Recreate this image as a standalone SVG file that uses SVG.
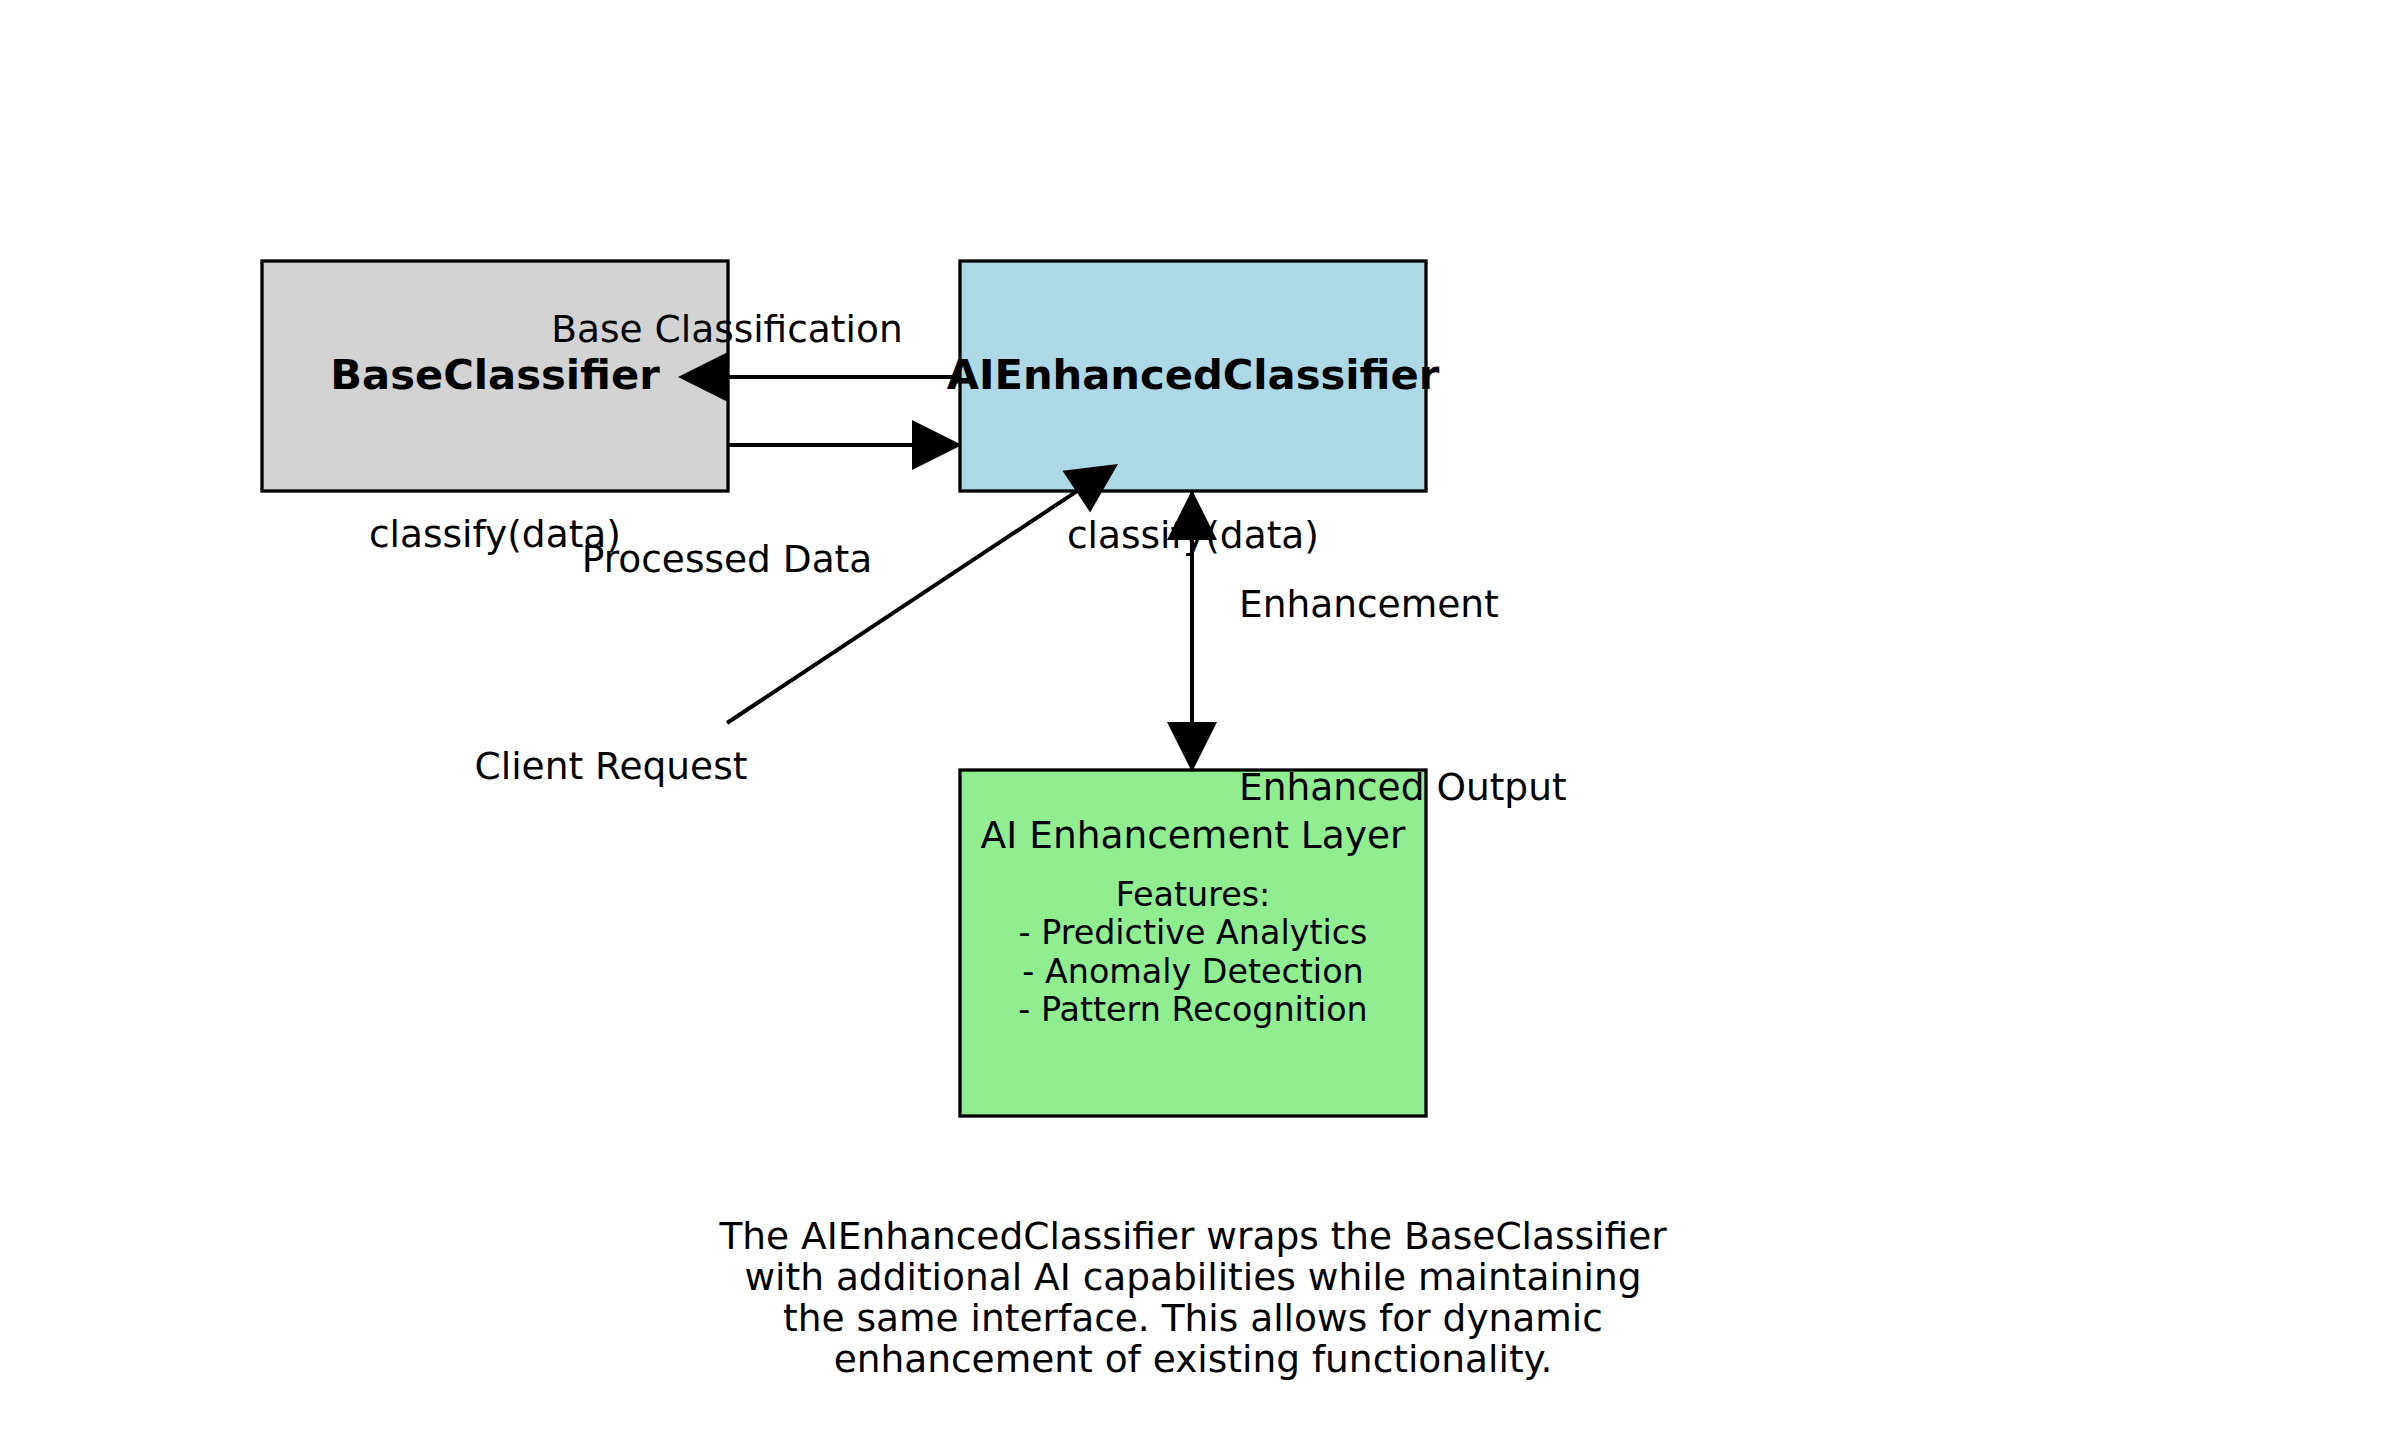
<svg xmlns="http://www.w3.org/2000/svg" width="2385" height="1446" viewBox="0 0 2385 1446">
<style>
text{font-family:"DejaVu Sans","Liberation Sans",sans-serif;fill:#000}
.box{stroke:#000;stroke-width:3.3}
.title{font-size:41.67px;font-weight:bold;text-anchor:middle}
.lbl{font-size:37.5px}
.mid{text-anchor:middle}
.start{text-anchor:start}
.feat{font-size:33.33px;text-anchor:middle}
.conn{stroke:#000;stroke-width:4;fill:none}
</style>
<defs>
<marker id="ah" markerUnits="userSpaceOnUse" markerWidth="52" markerHeight="52" viewBox="0 -26 52 52" refX="0" refY="0" orient="auto" overflow="visible">
<path d="M0,-25 L50,0 L0,25 z" fill="#000"/>
</marker>
</defs>
<rect width="2385" height="1446" fill="#fff"/>
<g id="base-classifier">
<rect class="box" x="262" y="261" width="466" height="230" fill="#d3d3d3"/>
<text class="title" x="495" y="389">BaseClassifier</text>
<text class="lbl mid" x="495" y="547">classify(data)</text>
</g>
<g id="ai-enhanced-classifier">
<rect class="box" x="960" y="261" width="466" height="230" fill="#add8e6"/>
<text class="title" x="1193" y="389">AIEnhancedClassifier</text>
<text class="lbl mid" x="1193" y="548">classify(data)</text>
</g>
<g id="ai-enhancement-layer">
<rect class="box" x="960" y="770" width="466" height="346" fill="#90ee90"/>
<text class="lbl mid" x="1193" y="848">AI Enhancement Layer</text>
<text class="feat" x="1193" y="906">Features:</text>
<text class="feat" x="1193" y="944">- Predictive Analytics</text>
<text class="feat" x="1193" y="983">- Anomaly Detection</text>
<text class="feat" x="1193" y="1021">- Pattern Recognition</text>
</g>
<g id="connectors">
<line class="conn" x1="960" y1="377" x2="728" y2="377" marker-end="url(#ah)"/>
<line class="conn" x1="728" y1="445" x2="912" y2="445" marker-end="url(#ah)"/>
<line class="conn" x1="727" y1="723" x2="1076.3" y2="491.6" marker-end="url(#ah)"/>
<line class="conn" x1="1192" y1="491" x2="1192" y2="722" marker-end="url(#ah)"/>
<line class="conn" x1="1192" y1="770" x2="1192" y2="540" marker-end="url(#ah)"/>
</g>
<g id="connector-labels">
<text class="lbl mid" x="727" y="342">Base Classification</text>
<text class="lbl mid" x="727" y="572">Processed Data</text>
<text class="lbl mid" x="611" y="779">Client Request</text>
<text class="lbl start" x="1239" y="617">Enhancement</text>
<text class="lbl start" x="1239" y="800">Enhanced Output</text>
</g>
<g id="caption">
<text class="lbl mid" x="1193" y="1249">The AIEnhancedClassifier wraps the BaseClassifier</text>
<text class="lbl mid" x="1193" y="1290">with additional AI capabilities while maintaining</text>
<text class="lbl mid" x="1193" y="1331">the same interface. This allows for dynamic</text>
<text class="lbl mid" x="1193" y="1372">enhancement of existing functionality.</text>
</g>
</svg>
